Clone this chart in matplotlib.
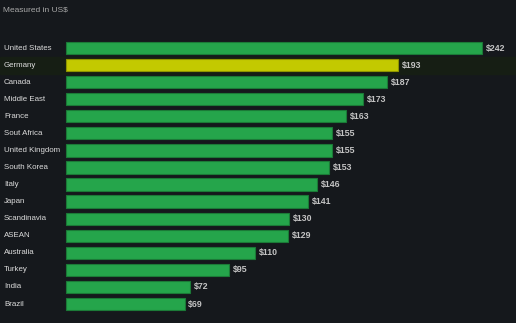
import matplotlib
matplotlib.use("Agg")
import matplotlib.pyplot as plt

countries = ["United States", "Germany", "Canada", "Middle East", "France",
             "Sout Africa", "United Kingdom", "South Korea", "Italy", "Japan",
             "Scandinavia", "ASEAN", "Australia", "Turkey", "India", "Brazil"]
values = [242, 193, 187, 173, 163, 155, 155, 153, 146, 141, 130, 129, 110, 95, 72, 69]
highlight = "Germany"
subtitle = "Measured in US$"

BG = "#15181c"
GREEN = "#25a54b"
GREEN_EDGE = "#1b7a37"
YELLOW = "#c3c900"
YELLOW_EDGE = "#8f9400"
BAND = "#161e14"
FONT = ["Liberation Sans", "DejaVu Sans"]

W, H = 516, 323
fig = plt.figure(figsize=(W / 100, H / 100), dpi=100, facecolor=BG)
ax = fig.add_axes([0, 0, 1, 1])
ax.set_facecolor(BG)

px_per_unit = 416 / 242.0
x0_px = 66
ax.set_xlim(-x0_px / px_per_unit, (W - x0_px) / px_per_unit)
row_px = 17.07
top_px = 48
ax.set_ylim((H - top_px) / row_px, -top_px / row_px)

for i, (c, v) in enumerate(zip(countries, values)):
    if c == highlight:
        ax.axhspan(i - 0.5, i + 0.5, color=BAND, zorder=0)
        fc, ec = YELLOW, YELLOW_EDGE
    else:
        fc, ec = GREEN, GREEN_EDGE
    ax.barh(i, v, height=0.72, color=fc, edgecolor=ec, linewidth=0.8, zorder=2)
    ax.text(v + 2.2, i, f"${v}", color="#c4c4c4", fontsize=6.3, fontweight="bold",
            family=FONT, va="center", ha="left", zorder=3)
    ax.text(4 / W, i, c, transform=ax.get_yaxis_transform(), color="#dcdcdc",
            fontsize=5.7, family=FONT, va="center", ha="left", zorder=3)

ax.axis("off")
fig.text(3 / W, 1 - 10 / H, subtitle, color="#a8a8a8", fontsize=6.0, family=FONT,
         va="center", ha="left")

fig.savefig("out.png", dpi=100, facecolor=BG)
